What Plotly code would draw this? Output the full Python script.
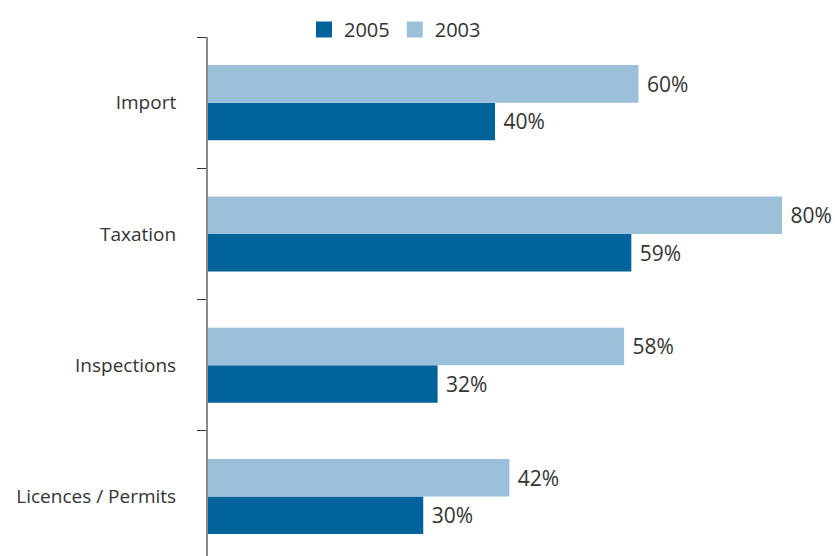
import plotly.graph_objects as go

categories = ["Licences / Permits", "Inspections", "Taxation", "Import"]
values_2005 = [30, 32, 59, 40]
values_2003 = [42, 58, 80, 60]

dark = "#00629A"
light = "#9BC0DA"
txt = "#333333"
FONT = "Open Sans, Noto Sans, sans-serif"

fig = go.Figure()
fig.add_trace(go.Bar(
    y=categories, x=values_2005, name="2005", orientation="h",
    marker=dict(color=dark, line=dict(width=0)),
    text=[f"\u00a0{v}%" for v in values_2005], textposition="outside",
    constraintext="none", showlegend=False, legendgroup="2005",
    textfont=dict(size=21, color=txt, family=FONT), cliponaxis=False,
))
fig.add_trace(go.Bar(
    y=categories, x=values_2003, name="2003", orientation="h",
    marker=dict(color=light, line=dict(width=0)),
    text=[f"\u00a0{v}%" for v in values_2003], textposition="outside",
    constraintext="none", showlegend=False, legendgroup="2003",
    textfont=dict(size=21, color=txt, family=FONT), cliponaxis=False,
))
# legend entries with larger square swatches
for name, col in [("2005", dark), ("2003", light)]:
    fig.add_trace(go.Scatter(
        x=[None], y=[None], mode="markers", name=name, legendgroup=name,
        marker=dict(symbol="square", size=16, color=col, line=dict(width=0)),
    ))

fig.update_layout(
    width=835, height=556,
    margin=dict(l=208, r=0, t=37, b=0, autoexpand=False),
    paper_bgcolor="white", plot_bgcolor="white",
    barmode="group", bargap=0.428, bargroupgap=0,
    font=dict(family=FONT, size=19, color=txt),
    showlegend=True,
    legend=dict(orientation="h", xref="container", yref="container",
                x=395 / 835, xanchor="center", y=1 - 10 / 556, yanchor="top",
                font=dict(size=20, color=txt, family=FONT), traceorder="normal",
                itemwidth=30),
)

fig.update_xaxes(range=[0, 627 / 7.175], visible=False, showgrid=False, zeroline=False)
fig.update_yaxes(
    type="category", categoryorder="array", categoryarray=categories,
    range=[-0.453, 3.5], showline=True, linecolor="#8a8a8a", linewidth=2,
    ticks="outside", tickson="boundaries", ticklen=9, tickcolor="#333333", tickwidth=1,
    ticklabelstandoff=26, showgrid=False, zeroline=False,
    tickfont=dict(size=19, color=txt, family=FONT),
)

fig.write_html("out.html")
